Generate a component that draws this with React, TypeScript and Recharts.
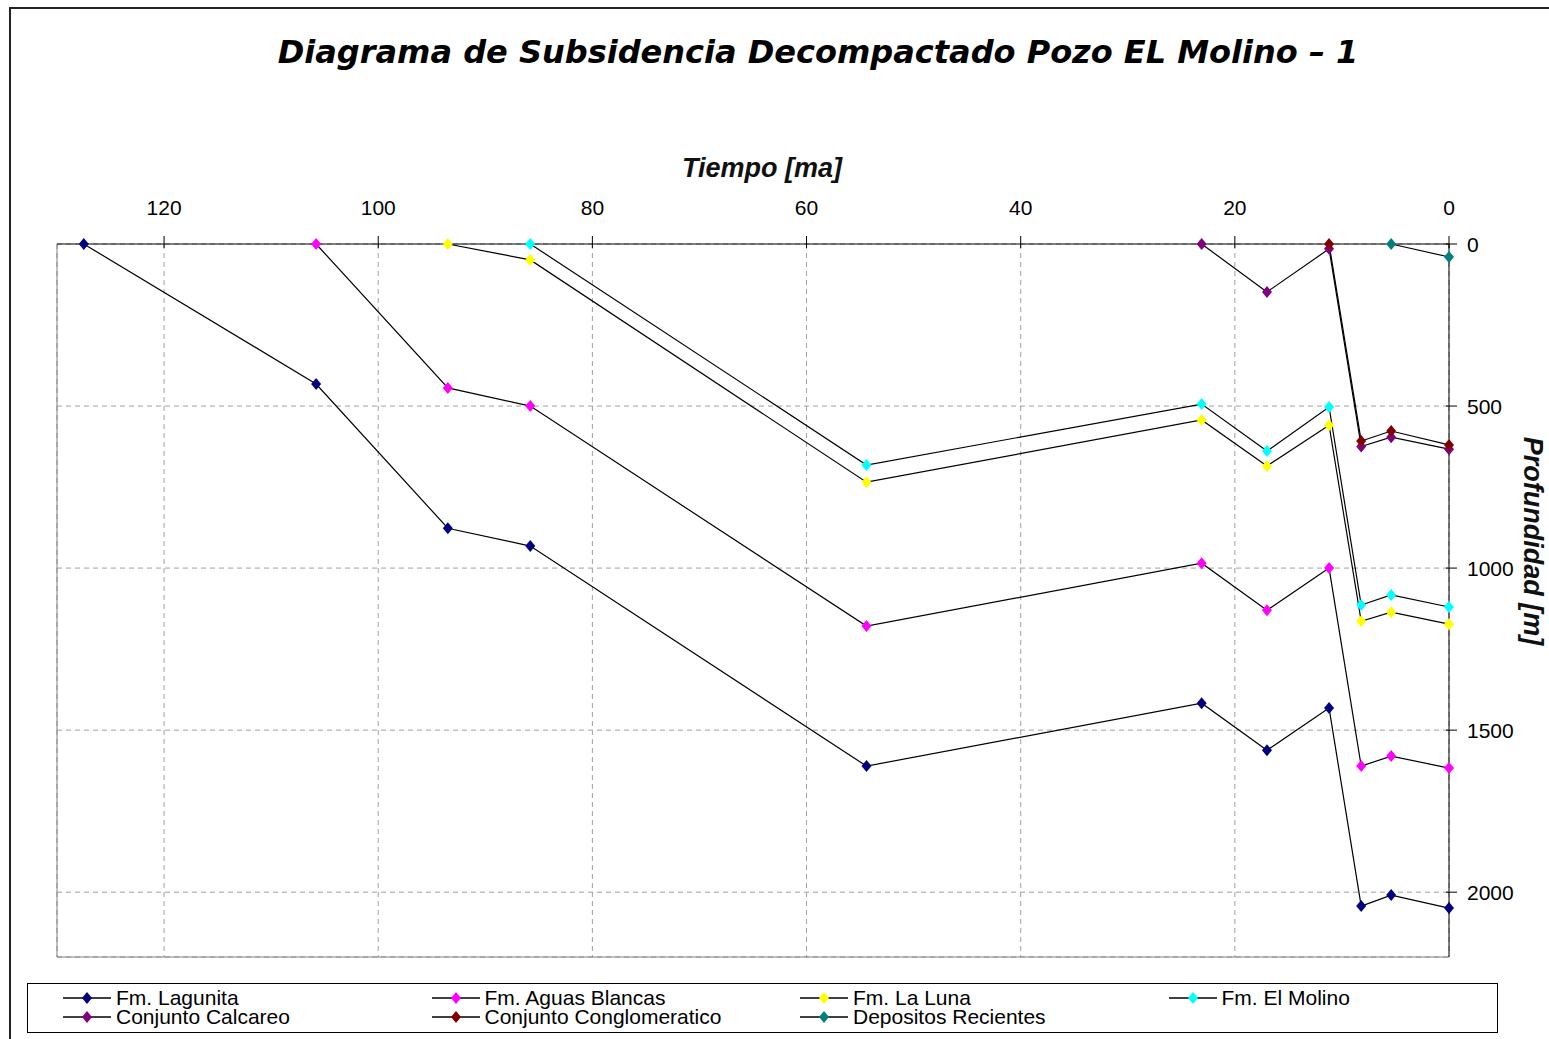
import { LineChart, Line, XAxis, YAxis, CartesianGrid, ReferenceLine } from 'recharts'

// edad (ma) y profundidad (m) de cada unidad
const lagunitaT = [127.5, 105.8, 93.5, 85.8, 54.4, 23.1, 17.0, 11.2, 8.2, 5.4, 0]
const lagunitaD = [0, 432, 877, 932, 1611, 1417, 1562, 1432, 2043, 2009, 2049]

const aguasT = [105.8, 93.5, 85.8, 54.4, 23.1, 17.0, 11.2, 8.2, 5.4, 0]
const aguasD = [0, 444, 500, 1179, 985, 1130, 1000, 1611, 1580, 1617]

const lunaT = [93.5, 85.8, 54.4, 23.1, 17.0, 11.2, 8.2, 5.4, 0]
const lunaD = [0, 49, 735, 543, 685, 559, 1164, 1136, 1173]

const molinoT = [85.8, 54.4, 23.1, 17.0, 11.2, 8.2, 5.4, 0]
const molinoD = [0, 682, 494, 639, 503, 1114, 1083, 1120]

const calcareoT = [23.1, 17.0, 11.2, 8.2, 5.4, 0]
const calcareoD = [0, 148, 15, 625, 596, 633]

const conglomT = [11.2, 8.2, 5.4, 0]
const conglomD = [0, 608, 577, 620]

const recientesT = [5.4, 0]
const recientesD = [0, 40]

const xTicks = [0, 20, 40, 60, 80, 100, 120]
const yTicks = [0, 500, 1000, 1500, 2000]

const toData = (t: number[], d: number[]) => t.map((v, i) => ({ t: v, d: d[i] }))

const series = [
  { name: 'Fm. Lagunita', color: '#000080', data: toData(lagunitaT, lagunitaD) },
  { name: 'Fm. Aguas Blancas', color: '#ff00ff', data: toData(aguasT, aguasD) },
  { name: 'Fm. La Luna', color: '#ffff00', data: toData(lunaT, lunaD) },
  { name: 'Fm. El Molino', color: '#00ffff', data: toData(molinoT, molinoD) },
  { name: 'Conjunto Calcareo', color: '#800080', data: toData(calcareoT, calcareoD) },
  { name: 'Conjunto Conglomeratico', color: '#800000', data: toData(conglomT, conglomD) },
  { name: 'Depositos Recientes', color: '#008080', data: toData(recientesT, recientesD) }
]

const tickFont = "'Liberation Sans', Arial, sans-serif"

function Diamond({ cx, cy, color }: any) {
  if (cx == null || cy == null) return null
  return <polygon points={`${cx},${cy - 6} ${cx + 5},${cy} ${cx},${cy + 6} ${cx - 5},${cy}`} fill={color} />
}

function TopTick({ x, y, payload }: any) {
  return (
    <g>
      <line x1={x} x2={x} y1={y - 6} y2={y + 6} stroke="#000" />
      <text x={x} y={y - 27} textAnchor="middle" fontSize={21} fontFamily={tickFont} fill="#000">
        {payload.value}
      </text>
    </g>
  )
}

function RightTick({ x, y, payload }: any) {
  return (
    <g>
      <line x1={x - 5} x2={x + 6} y1={y} y2={y} stroke="#000" />
      <text x={x + 16} y={y + 8} textAnchor="start" fontSize={21} fontFamily={tickFont} fill="#000">
        {payload.value}
      </text>
    </g>
  )
}

function LegendMark({ color }: { color: string }) {
  return (
    <svg width={48} height={14} style={{ marginRight: 5 }}>
      <line x1={0} x2={48} y1={7} y2={7} stroke="#000" strokeWidth={1.5} />
      <polygon points="24,1 29,7 24,13 19,7" fill={color} />
    </svg>
  )
}

export default function App() {
  return (
    <div style={{ position: 'absolute', left: 0, top: 0, width: 1549, height: 1039, overflow: 'hidden', background: '#fff' }}>
      <div style={{ position: 'absolute', left: 9, top: 7, width: 1600, height: 1100, border: '2px solid #222' }} />
      <div
        style={{
          position: 'absolute', left: 118, top: 32, width: 1400, textAlign: 'center',
          fontFamily: "'DejaVu Sans', Verdana, sans-serif", fontWeight: 'bold', fontStyle: 'italic',
          fontSize: 32, lineHeight: '40px', color: '#000'
        }}
      >
        Diagrama de Subsidencia Decompactado Pozo EL Molino – 1
      </div>
      <div
        style={{
          position: 'absolute', left: 612, top: 151, width: 300, textAlign: 'center',
          fontFamily: tickFont, fontWeight: 'bold', fontStyle: 'italic', fontSize: 27, lineHeight: '34px', color: '#111'
        }}
      >
        Tiempo [ma]
      </div>
      <div
        style={{
          position: 'absolute', left: 1533, top: 541, width: 300, textAlign: 'center',
          transform: 'translate(-50%, -50%) rotate(90deg)',
          fontFamily: tickFont, fontWeight: 'bold', fontStyle: 'italic', fontSize: 27, lineHeight: '34px', color: '#111'
        }}
      >
        Profundidad [m]
      </div>

      <div style={{ position: 'absolute', left: 0, top: 0 }}>
        <LineChart width={1549} height={1039} margin={{ top: 214, left: 57, right: 40, bottom: 82 }}>
          <CartesianGrid stroke="#a0a0a0" strokeDasharray="5 4" />
          <XAxis
            dataKey="t"
            type="number"
            orientation="top"
            domain={[0, 130]}
            reversed
            ticks={xTicks}
            height={30}
            tickSize={0}
            tickLine={false}
            axisLine={{ stroke: '#000' }}
            tick={<TopTick />}
            allowDuplicatedCategory={false}
          />
          <YAxis
            dataKey="d"
            type="number"
            orientation="right"
            domain={[0, 2200]}
            reversed
            ticks={yTicks}
            width={60}
            tickSize={0}
            tickLine={false}
            axisLine={{ stroke: '#000' }}
            tick={<RightTick />}
          />
          <ReferenceLine x={130} stroke="#808080" />
          <ReferenceLine y={2200} stroke="#808080" />
          {series.map((s) => (
            <Line
              key={s.name}
              data={s.data}
              dataKey="d"
              name={s.name}
              type="linear"
              stroke="#000"
              strokeWidth={1.2}
              dot={(p: any) => <Diamond key={`${s.name}-${p.index}`} cx={p.cx} cy={p.cy} color={s.color} />}
              activeDot={false}
              isAnimationActive={false}
            />
          ))}
        </LineChart>
      </div>

      <div
        style={{
          position: 'absolute', left: 27, top: 983, width: 1471, height: 50, border: '1.5px solid #000',
          boxSizing: 'border-box', fontFamily: tickFont, fontSize: 21, color: '#000'
        }}
      >
        {series.map((s, i) => (
          <div
            key={s.name}
            style={{
              position: 'absolute', left: 35 + (i % 4) * 368.5, top: 4 + Math.floor(i / 4) * 19,
              height: 19, display: 'flex', alignItems: 'center', lineHeight: '19px', whiteSpace: 'nowrap'
            }}
          >
            <LegendMark color={s.color} />
            <span>{s.name}</span>
          </div>
        ))}
      </div>
    </div>
  )
}
